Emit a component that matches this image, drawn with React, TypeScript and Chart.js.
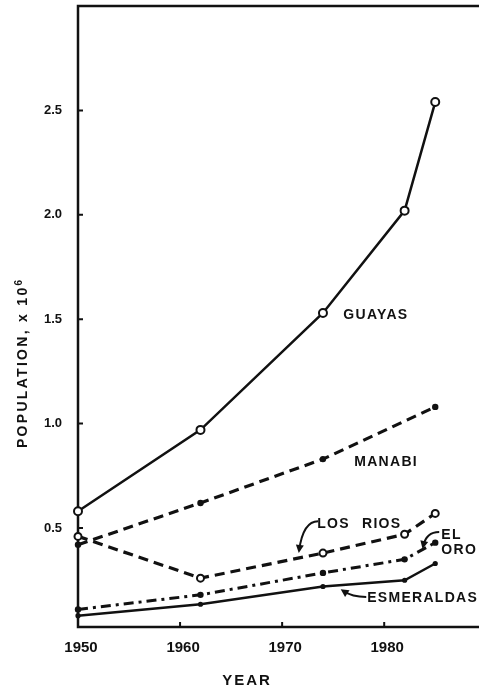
import { useEffect, useRef } from "react";
import { Chart, registerables } from "chart.js";

Chart.register(...registerables);

// Census years and provincial population (millions)
const YEARS = [1950, 1962, 1974, 1982, 1985];
const GUAYAS = [0.58, 0.97, 1.53, 2.02, 2.54];
const MANABI = [0.42, 0.62, 0.83, null, 1.08];
const LOS_RIOS = [0.46, 0.26, 0.38, 0.47, 0.57];
const EL_ORO = [0.11, 0.18, 0.285, 0.35, 0.43];
const ESMERALDAS = [0.08, 0.135, 0.22, 0.25, 0.33];

const X_TICKS = [1950, 1960, 1970, 1980];
const Y_TICKS = [0.5, 1.0, 1.5, 2.0, 2.5];

const INK = "#111";
const FONT = '"Liberation Sans", Arial, Helvetica, sans-serif';

// Series name labels, anchored (left, baseline) in data units
const SERIES_LABELS = [
  { text: "GUAYAS", year: 1976.0, value: 1.5 },
  { text: "MANABI", year: 1977.06, value: 0.797 },
  { text: "LOS RIOS", year: 1973.43, value: 0.5 },
  { text: "EL", year: 1985.6, value: 0.447 },
  { text: "ORO", year: 1985.6, value: 0.376 },
  { text: "ESMERALDAS", year: 1978.33, value: 0.146 },
];

// Pointer arrows from labels to their lines: start, bend, tip (data units)
const ARROWS = [
  { from: [1973.53, 0.533], via: [1972.06, 0.533], to: [1971.67, 0.395] },
  { from: [1985.39, 0.481], via: [1984.12, 0.481], to: [1983.82, 0.414] },
  { from: [1978.24, 0.17], via: [1976.86, 0.17], to: [1975.98, 0.199] },
];

const toPoints = (vals: (number | null)[]) =>
  YEARS.map((x, i) => ({ x, y: vals[i] }));

const framePlugin = {
  id: "frame",
  beforeDatasetsDraw(chart: any) {
    const { ctx, chartArea: a, scales } = chart;
    ctx.save();
    ctx.strokeStyle = INK;
    ctx.lineWidth = 2.5;
    ctx.lineCap = "square";
    ctx.beginPath();
    ctx.moveTo(chart.width + 2, a.top);
    ctx.lineTo(a.left, a.top);
    ctx.lineTo(a.left, a.bottom);
    ctx.lineTo(chart.width + 2, a.bottom);
    ctx.stroke();

    // inward tick marks
    ctx.lineWidth = 2;
    ctx.lineCap = "butt";
    ctx.beginPath();
    for (const v of Y_TICKS) {
      const y = scales.y.getPixelForValue(v);
      ctx.moveTo(a.left, y);
      ctx.lineTo(a.left + 5, y);
    }
    for (const yr of X_TICKS.slice(1)) {
      const x = scales.x.getPixelForValue(yr);
      ctx.moveTo(x, a.bottom);
      ctx.lineTo(x, a.bottom - 5);
    }
    ctx.stroke();
    ctx.restore();
  },
  afterDatasetsDraw(chart: any) {
    const { ctx, scales } = chart;
    const px = (yr: number) => scales.x.getPixelForValue(yr);
    const py = (v: number) => scales.y.getPixelForValue(v);

    ctx.save();
    ctx.fillStyle = INK;
    ctx.strokeStyle = INK;

    // series labels
    ctx.font = `bold 14px ${FONT}`;
    ctx.textAlign = "left";
    ctx.textBaseline = "alphabetic";
    (ctx as any).letterSpacing = "1.3px";
    (ctx as any).wordSpacing = "7px";
    for (const l of SERIES_LABELS) {
      ctx.fillText(l.text, px(l.year), py(l.value));
    }
    (ctx as any).wordSpacing = "0px";

    // arrows
    ctx.lineWidth = 2;
    for (const ar of ARROWS) {
      const x0 = px(ar.from[0]), y0 = py(ar.from[1]);
      const x1 = px(ar.via[0]), y1 = py(ar.via[1]);
      const x2 = px(ar.to[0]), y2 = py(ar.to[1]);
      ctx.beginPath();
      ctx.moveTo(x0, y0);
      ctx.quadraticCurveTo(x1, y1, x2, y2);
      ctx.stroke();
      const ang = Math.atan2(y2 - y1, x2 - x1);
      const len = 8, half = 4;
      const tx = x2 + Math.cos(ang) * 3, ty = y2 + Math.sin(ang) * 3;
      ctx.beginPath();
      ctx.moveTo(tx, ty);
      ctx.lineTo(tx - Math.cos(ang) * len - Math.sin(ang) * half, ty - Math.sin(ang) * len + Math.cos(ang) * half);
      ctx.lineTo(tx - Math.cos(ang) * len + Math.sin(ang) * half, ty - Math.sin(ang) * len - Math.cos(ang) * half);
      ctx.closePath();
      ctx.fill();
    }

    // x axis title
    ctx.font = `bold 15px ${FONT}`;
    (ctx as any).letterSpacing = "2px";
    ctx.textAlign = "center";
    ctx.fillText("YEAR", 247, 685);

    // y axis title with superscript exponent
    ctx.translate(27, 364);
    ctx.rotate(-Math.PI / 2);
    ctx.textAlign = "left";
    ctx.font = `bold 14px ${FONT}`;
    (ctx as any).letterSpacing = "2.3px";
    const main = "POPULATION, x 10";
    const mw = ctx.measureText(main).width;
    ctx.font = `bold 10px ${FONT}`;
    (ctx as any).letterSpacing = "0px";
    const sw = ctx.measureText("6").width;
    const start = -(mw + sw) / 2;
    ctx.font = `bold 14px ${FONT}`;
    (ctx as any).letterSpacing = "2.3px";
    ctx.fillText(main, start, 0);
    ctx.font = `bold 10px ${FONT}`;
    (ctx as any).letterSpacing = "0px";
    ctx.fillText("6", start + mw, -5);
    ctx.restore();
  },
};

export default function App() {
  const canvasRef = useRef<HTMLCanvasElement | null>(null);

  useEffect(() => {
    document.body.style.margin = "0";
    const canvas = canvasRef.current;
    if (!canvas) return;

    const tickFont = (size: number) => ({ family: FONT, size, weight: "bold" as const });

    const chart = new Chart(canvas, {
      type: "line",
      data: {
        datasets: [
          {
            label: "Guayas",
            data: toPoints(GUAYAS),
            borderColor: INK,
            borderWidth: 2.5,
            pointRadius: 4,
            pointBorderWidth: 2,
            pointBackgroundColor: "#fff",
            pointBorderColor: INK,
            clip: false,
          },
          {
            label: "Manabi",
            data: toPoints(MANABI),
            borderColor: INK,
            borderWidth: 3.2,
            borderDash: [10, 6],
            spanGaps: true,
            pointRadius: 3.2,
            pointBorderWidth: 0,
            pointBackgroundColor: INK,
            clip: false,
          },
          {
            label: "Los Rios",
            data: toPoints(LOS_RIOS),
            borderColor: INK,
            borderWidth: 3.2,
            borderDash: [10, 6],
            pointRadius: 3.5,
            pointBorderWidth: 2,
            pointBackgroundColor: "#fff",
            pointBorderColor: INK,
            clip: false,
          },
          {
            label: "El Oro",
            data: toPoints(EL_ORO),
            borderColor: INK,
            borderWidth: 3,
            borderDash: [10, 5, 3, 5],
            pointRadius: 3.2,
            pointBorderWidth: 0,
            pointBackgroundColor: INK,
            clip: false,
          },
          {
            label: "Esmeraldas",
            data: toPoints(ESMERALDAS),
            borderColor: INK,
            borderWidth: 2.4,
            pointRadius: 2.6,
            pointBorderWidth: 0,
            pointBackgroundColor: INK,
            clip: false,
          },
        ],
      },
      options: {
        animation: false,
        responsive: true,
        maintainAspectRatio: false,
        layout: { padding: { top: 6, right: 0, bottom: 0, left: 0 } },
        elements: { line: { tension: 0 } },
        plugins: { legend: { display: false }, tooltip: { enabled: false } },
        scales: {
          x: {
            type: "linear",
            min: 1950,
            max: 1988.7,
            grid: { display: false, drawTicks: false },
            border: { display: false },
            afterBuildTicks: (s: any) => {
              s.ticks = X_TICKS.map((value) => ({ value }));
            },
            afterFit: (s: any) => {
              s.height = 63;
              s.paddingLeft = 0;
              s.paddingRight = 0;
            },
            ticks: {
              padding: 12,
              labelOffset: 3,
              color: INK,
              font: tickFont(15),
              maxRotation: 0,
              autoSkip: false,
              callback: (v: any) => String(v),
            },
          },
          y: {
            type: "linear",
            min: 0.026,
            max: 3.0,
            grid: { display: false, drawTicks: false },
            border: { display: false },
            afterBuildTicks: (s: any) => {
              s.ticks = Y_TICKS.map((value) => ({ value }));
            },
            afterFit: (s: any) => {
              s.width = 78;
              s.paddingTop = 0;
              s.paddingBottom = 0;
            },
            ticks: {
              padding: 16,
              color: INK,
              font: tickFont(13),
              autoSkip: false,
              callback: (v: any) => Number(v).toFixed(1),
            },
          },
        },
      },
      plugins: [framePlugin],
    });

    return () => chart.destroy();
  }, []);

  return (
    <div style={{ position: "relative", width: 479, height: 690, background: "#fff" }}>
      <canvas ref={canvasRef} />
    </div>
  );
}
